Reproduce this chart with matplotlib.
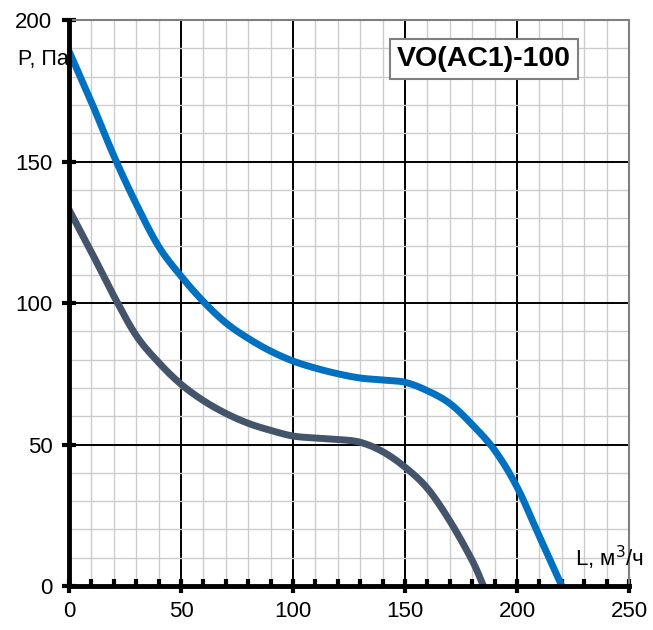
import numpy as np
import matplotlib.pyplot as plt
from matplotlib.ticker import MultipleLocator

plt.rcParams['font.family'] = ['Liberation Sans', 'DejaVu Sans']

# fan curve, higher speed
flow_hi = [0, 10, 20, 30, 40, 50, 60, 70, 80, 90, 100, 110, 120, 130, 140,
           150, 160, 170, 180, 190, 200, 210, 220]
press_hi = [189, 171, 152, 135, 120, 109.5, 100.5, 93, 87.5, 83, 79.5, 77, 75, 73.5,
            72.8, 72, 69, 64.5, 57, 48, 35, 17.5, 0]

# fan curve, lower speed
flow_lo = [0, 10, 20, 30, 40, 50, 60, 70, 80, 90, 100, 110, 120, 130, 140,
           150, 160, 170, 180, 185]
press_lo = [133, 118, 102.5, 88.5, 79, 71.3, 65.5, 61, 57.5, 55, 53, 52.3, 51.8,
            50.8, 47.5, 42, 34.5, 23, 9, 0]

x_ticks = [0, 50, 100, 150, 200, 250]
y_ticks = [0, 50, 100, 150, 200]
model = 'VO(AC1)-100'


def smooth(xs, ys, n=20):
    # Catmull-Rom pass through the points, like a smoothed line in a spreadsheet
    p = np.column_stack([xs, ys]).astype(float)
    p = np.vstack([2 * p[0] - p[1], p, 2 * p[-1] - p[-2]])
    t = np.linspace(0, 1, n, endpoint=False)[:, None]
    out = []
    for i in range(1, len(p) - 2):
        p0, p1, p2, p3 = p[i - 1], p[i], p[i + 1], p[i + 2]
        seg = 0.5 * ((2 * p1) + (-p0 + p2) * t
                     + (2 * p0 - 5 * p1 + 4 * p2 - p3) * t ** 2
                     + (-p0 + 3 * p1 - 3 * p2 + p3) * t ** 3)
        out.append(seg)
    out.append(p[-2][None, :])
    out = np.vstack(out)
    return out[:, 0], out[:, 1]


fig = plt.figure(figsize=(6.53, 6.30), dpi=100)
ax = fig.add_axes([0.1057, 0.0698, 0.8576, 0.8984])

ax.set_xlim(0, 250)
ax.set_ylim(0, 200)
ax.set_xticks(x_ticks)
ax.set_yticks(y_ticks)
ax.xaxis.set_minor_locator(MultipleLocator(10))
ax.yaxis.set_minor_locator(MultipleLocator(10))

ax.grid(which='minor', color='#cccccc', linewidth=1.0, zorder=0)
ax.grid(which='major', color='black', linewidth=1.4, zorder=1)
ax.set_axisbelow(True)

ax.plot(*smooth(flow_hi, press_hi), color='#0070c0', linewidth=5,
        solid_capstyle='butt', zorder=3)
ax.plot(*smooth(flow_lo, press_lo), color='#44546a', linewidth=5,
        solid_capstyle='butt', zorder=3)

for side in ('top', 'right'):
    ax.spines[side].set_color('#808080')
    ax.spines[side].set_linewidth(1.5)
for side in ('left', 'bottom'):
    ax.spines[side].set_color('black')
    ax.spines[side].set_linewidth(3.5)
    ax.spines[side].set_zorder(4)

ax.tick_params(axis='both', which='major', direction='inout', length=10, width=3,
               labelsize=16, colors='black')
ax.tick_params(axis='x', which='major', pad=6)
ax.tick_params(axis='y', which='major', pad=7)
ax.tick_params(axis='x', which='minor', direction='in', length=5, width=3, color='black')
ax.tick_params(axis='y', which='minor', length=0)

ax.text(0, 186, 'P, Па', ha='right', va='center', fontsize=15.5, zorder=5)
ax.text(226, 10, 'L, м$^3$/ч', ha='left', va='center', fontsize=16,
        clip_on=False, zorder=5)
ax.text(185.3, 186.2, model, ha='center', va='center', fontsize=20.5,
        fontweight='bold', zorder=5,
        bbox=dict(boxstyle='square,pad=0.25', facecolor='white',
                  edgecolor='#808080', linewidth=1.5))

fig.savefig('out.png', dpi=100)
